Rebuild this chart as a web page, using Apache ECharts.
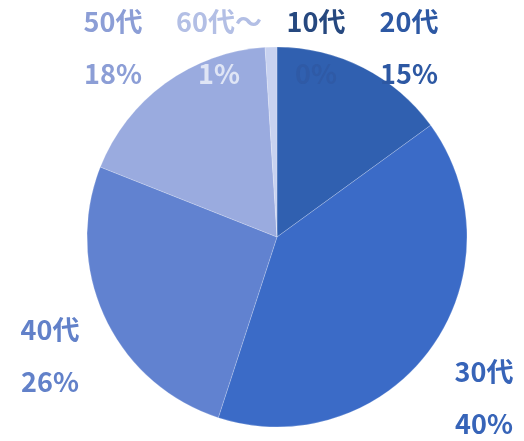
<!DOCTYPE html>
<html>
<head>
<meta charset="utf-8">
<script src="https://cdn.jsdelivr.net/npm/echarts@6/dist/echarts.min.js"></script>
<style>
  html, body { margin: 0; padding: 0; background: #ffffff; }
  #chart { width: 524px; height: 441px; }
</style>
</head>
<body>
<div id="chart"></div>
<script>
// Age groups and their shares (%)
const categories = ['10代', '20代', '30代', '40代', '50代', '60代～'];
const shares = [0, 15, 40, 26, 18, 1];

// Slice fills and label colours per age group
const sliceColors = ['#2b559c', '#3060b0', '#3b6bc7', '#6182d0', '#9aabdf', '#c8d2f0'];
const nameColors = ['#26487f', '#2d58a3', '#3764b8', '#6281c9', '#8c9ed6', '#b3bfe5'];
const valueColors = ['#2f5aa6', '#2d58a3', '#3764b8', '#6281c9', '#8c9ed6', '#dfe5f5'];

// Label block centres (name line over value line)
const labelCenters = [
  [316, 48], [409, 48], [484, 398], [50, 356], [113, 48], [219, 48]
];

const chart = echarts.init(document.getElementById('chart'), null, { renderer: 'canvas' });

const data = categories.map((name, i) => ({
  name: name,
  value: shares[i],
  itemStyle: { color: sliceColors[i] },
  label: {
    rich: {
      n: { color: nameColors[i] },
      v: { color: valueColors[i] }
    }
  }
}));

chart.setOption({
  animation: false,
  series: [{
    type: 'pie',
    center: [277, 237],
    radius: 190,
    startAngle: 90,
    clockwise: true,
    minAngle: 0,
    stillShowZeroSum: true,
    avoidLabelOverlap: false,
    itemStyle: { borderColor: 'rgba(255,255,255,0.2)', borderWidth: 1 },
    labelLine: { show: false },
    label: {
      show: true,
      position: 'outside',
      formatter: p => '{n|' + p.name + '}\n{v|' + p.value + '%}',
      rich: {
        n: {
          fontFamily: "'Noto Sans CJK JP', 'Noto Sans', sans-serif",
          fontWeight: 'bold', fontSize: 27, lineHeight: 52, align: 'center'
        },
        v: {
          fontFamily: "'Noto Sans CJK JP', 'Noto Sans', sans-serif",
          fontWeight: 'bold', fontSize: 27, lineHeight: 52, align: 'center'
        }
      }
    },
    labelLayout: function (params) {
      const c = labelCenters[params.dataIndex];
      return { x: c[0], y: c[1], align: 'center', verticalAlign: 'middle', hideOverlap: false };
    },
    data: data
  }]
});
</script>
</body>
</html>
